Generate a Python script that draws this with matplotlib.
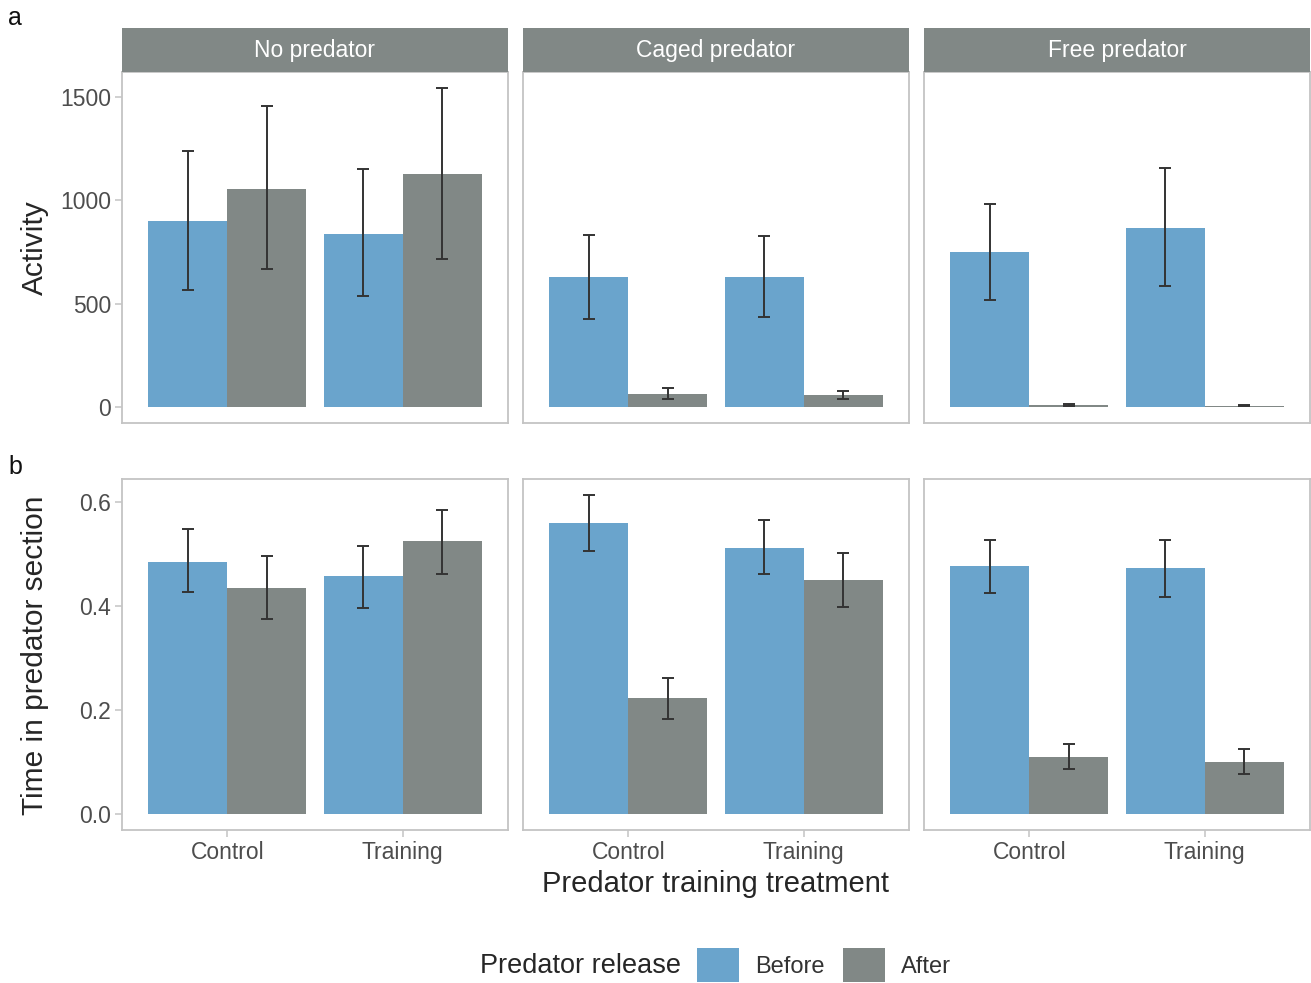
import matplotlib
matplotlib.use("Agg")
import matplotlib.pyplot as plt
from matplotlib.patches import Patch
import numpy as np

plt.rcParams['font.family'] = ['Liberation Sans', 'DejaVu Sans']

predators = ["No predator", "Caged predator", "Free predator"]
treatments = ["Control", "Training"]
release = ["Before", "After"]

# activity: [predator][treatment] -> (before, after), with lower/upper error limits
act_mean = [[(902, 1056), (839, 1129)],
            [(627, 63), (627, 58)],
            [(748, 10), (868, 6)]]
act_lo = [[(564, 666), (535, 714)],
          [(424, 39), (434, 39)],
          [(516, 6), (588, 3)]]
act_hi = [[(1240, 1457), (1153, 1544)],
          [(834, 92), (830, 77)],
          [(984, 14), (1158, 9)]]

# proportion of time spent in the predator section
time_mean = [[(0.485, 0.434), (0.457, 0.524)],
             [(0.560, 0.222), (0.512, 0.449)],
             [(0.476, 0.109), (0.472, 0.099)]]
time_lo = [[(0.426, 0.375), (0.396, 0.462)],
           [(0.506, 0.183), (0.462, 0.397)],
           [(0.424, 0.086), (0.417, 0.076)]]
time_hi = [[(0.547, 0.495), (0.516, 0.585)],
           [(0.613, 0.262), (0.566, 0.501)],
           [(0.527, 0.134), (0.527, 0.124)]]

colors = {"Before": "#6aa4cc", "After": "#818886"}
strip_col = "#818886"
border_col = "#c4c4c4"
text_col = "#4d4d4d"
title_col = "#262626"

W, H = 1311, 983
fig = plt.figure(figsize=(W / 100, H / 100), dpi=100)


def px_axes(x0, y0, x1, y1):
    return fig.add_axes([x0 / W, 1 - y1 / H, (x1 - x0) / W, (y1 - y0) / H])


cols = [(122, 508), (523, 909), (924, 1310)]
rows = [(72, 423), (479, 830)]
data = [(act_mean, act_lo, act_hi, (-77, 1621), [0, 500, 1000, 1500], ["0", "500", "1000", "1500"]),
        (time_mean, time_lo, time_hi, (-0.031, 0.644), [0, 0.2, 0.4, 0.6], ["0.0", "0.2", "0.4", "0.6"])]

x = np.arange(1, len(treatments) + 1)
bw = 0.45
for r, (mean, lo, hi, ylim, yt, ytl) in enumerate(data):
    for c, pred in enumerate(predators):
        ax = px_axes(cols[c][0], rows[r][0], cols[c][1], rows[r][1])
        for k, rel in enumerate(release):
            m = np.array([mean[c][t][k] for t in range(2)])
            l = np.array([lo[c][t][k] for t in range(2)])
            h = np.array([hi[c][t][k] for t in range(2)])
            xs = x + (k - 0.5) * bw
            ax.bar(xs, m, width=bw, color=colors[rel], zorder=2)
            ax.errorbar(xs, m, yerr=[m - l, h - m], fmt="none", ecolor="#333333",
                        elinewidth=1.4, capsize=4, capthick=1.4, zorder=3)
        ax.set_xlim(0.4, 2.6)
        ax.set_ylim(*ylim)
        ax.set_yticks(yt)
        for s in ax.spines.values():
            s.set_color(border_col)
            s.set_linewidth(1.3)
        ax.tick_params(colors=border_col, labelcolor=text_col, labelsize=16.5,
                       length=5, width=1.1, pad=3)
        if c == 0:
            ax.set_yticklabels(ytl)
        else:
            ax.tick_params(axis="y", left=False, labelleft=False)
        if r == 1:
            ax.set_xticks(x)
            ax.set_xticklabels(treatments)
        else:
            ax.set_xticks([])
        if r == 0:
            # facet strip above the top row
            sa = px_axes(cols[c][0], 28, cols[c][1], 72)
            sa.set_facecolor(strip_col)
            sa.set_xticks([])
            sa.set_yticks([])
            for s in sa.spines.values():
                s.set_visible(False)
            sa.text(0.5, 0.5, pred, ha="center", va="center", color="white",
                    fontsize=16.5, transform=sa.transAxes)

fig.text(35 / W, 1 - 248 / H, "Activity", rotation=90, ha="center", va="center",
         fontsize=21.5, color=title_col)
fig.text(35 / W, 1 - 655 / H, "Time in predator section", rotation=90, ha="center",
         va="center", fontsize=21.5, color=title_col)
fig.text(716 / W, 1 - 884 / H, "Predator training treatment", ha="center", va="center",
         fontsize=21, color=title_col)
fig.text(8 / W, 1 - 18 / H, "a", ha="left", va="center", fontsize=18, color="#111111")
fig.text(8 / W, 1 - 467 / H, "b", ha="left", va="center", fontsize=18, color="#111111")

# legend along the bottom
fig.text(581 / W, 1 - 966 / H, "Predator release", ha="center", va="center",
         fontsize=19.5, color=title_col)
handles = [Patch(facecolor=colors[r], edgecolor="none", label=r) for r in release]
fig.legend(handles=handles, ncol=2, loc="center left",
           bbox_to_anchor=(697 / W, 1 - 965 / H), frameon=False,
           fontsize=17, labelcolor="#333333", handlelength=1.78, handleheight=1.78,
           handletextpad=0.68, columnspacing=0.76, borderaxespad=0, borderpad=0)

fig.savefig("out.png", dpi=100)
